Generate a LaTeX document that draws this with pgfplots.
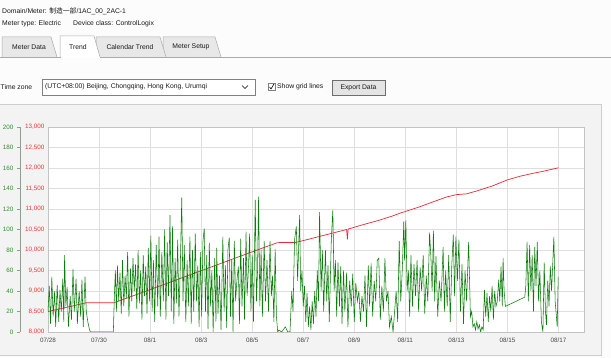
\documentclass[border=0pt]{standalone}
\usepackage{fontspec}
\setmainfont{Liberation Sans}
\newfontfamily\cjk{Noto Sans CJK SC}
\usepackage{pgfplots}
\pgfplotsset{compat=1.18}
\definecolor{pagebg}{RGB}{252,252,253}
\definecolor{panelbg}{RGB}{243,243,243}
\definecolor{panelborder}{RGB}{205,205,205}
\definecolor{tabfill}{RGB}{232,232,232}
\definecolor{tabborder}{RGB}{170,170,170}
\definecolor{btnfill}{RGB}{228,228,228}
\definecolor{btnborder}{RGB}{110,110,110}
\definecolor{gridc}{RGB}{222,222,222}
\definecolor{framec}{RGB}{195,195,195}
\definecolor{redline}{RGB}{232,40,55}
\definecolor{greenline}{RGB}{10,125,10}
\definecolor{redlab}{RGB}{235,55,55}
\definecolor{greenlab}{RGB}{50,140,50}
\definecolor{greenaxis}{RGB}{140,160,140}
\definecolor{xlab}{RGB}{70,70,70}
\definecolor{txt}{RGB}{25,25,25}
\begin{document}
\begin{tikzpicture}[font=\fontsize{6.8}{8}\selectfont, text=txt]
\useasboundingbox (0pt,0pt) rectangle (611pt,358pt);
\fill[pagebg] (0pt,0pt) rectangle (611pt,358pt);
% header
\node[anchor=west, inner sep=0pt] at (2pt,347pt) {Domain/Meter: {\cjk 制造一部}/1AC\_00\_2AC-1};
\node[anchor=west, inner sep=0pt] at (2pt,334pt) {Meter type: Electric};
\node[anchor=west, inner sep=0pt] at (73pt,334pt) {Device class: ControlLogix};
% tabs
\draw[tabborder, line width=0.6pt] (0pt,301pt) -- (611pt,301pt);
\filldraw[fill=tabfill, draw=tabborder, line width=0.5pt] (163pt,301pt) -- (163pt,321pt) -- (215pt,321pt) -- (221pt,301pt);
\filldraw[fill=tabfill, draw=tabborder, line width=0.5pt] (96pt,301pt) -- (96pt,321pt) -- (160pt,321pt) -- (166pt,301pt);
\filldraw[fill=tabfill, draw=tabborder, line width=0.5pt] (2pt,301pt) -- (2pt,321pt) -- (51pt,321pt) -- (57pt,301pt);
\filldraw[fill=white, draw=tabborder, line width=0.5pt] (60pt,301pt) -- (60pt,322pt) -- (94pt,322pt) -- (100pt,301pt);
\draw[white, line width=0.8pt] (60.5pt,301pt) -- (99.5pt,301pt);
\node[inner sep=0pt] at (29pt,311pt) {Meter Data};
\node[inner sep=0pt] at (78pt,311pt) {Trend};
\node[inner sep=0pt] at (130pt,311pt) {Calendar Trend};
\node[inner sep=0pt] at (191pt,311pt) {Meter Setup};
% time zone row
\node[anchor=west, inner sep=0pt] at (0.5pt,271pt) {Time zone};
\draw[fill=white, draw=gray, line width=0.5pt] (42pt,263pt) rectangle (255pt,279pt);
\node[anchor=west, inner sep=0pt] at (45pt,271pt) {(UTC+08:00) Beijing, Chongqing, Hong Kong, Urumqi};
\draw[line width=0.6pt] (242pt,272.5pt) -- (245pt,269.5pt) -- (248pt,272.5pt);
\draw[fill=white, draw=gray, line width=0.5pt] (268pt,267.5pt) rectangle (275pt,274.5pt);
\draw[line width=0.6pt] (269.5pt,271pt) -- (271pt,269pt) -- (274pt,274pt);
\node[anchor=west, inner sep=0pt] at (277pt,271pt) {Show grid lines};
\draw[fill=btnfill, draw=btnborder, line width=0.6pt] (332pt,263pt) rectangle (385pt,278pt);
\node[inner sep=0pt] at (358.5pt,270.5pt) {Export Data};
% panel
\filldraw[fill=panelbg, draw=panelborder, line width=0.6pt] (-1pt,3pt) rectangle (601pt,254pt);

\begin{axis}[
  at={(48pt,26pt)}, anchor=south west,
  scale only axis, width=536pt, height=205pt,
  xmin=0, xmax=21, ymin=8000, ymax=13000,
  xtick={0,2,...,20},
  xticklabels={07/28,07/30,08/1,08/3,08/5,08/7,08/9,08/11,08/13,08/15,08/17},
  ytick={8000,8500,...,13000},
  scaled y ticks=false,
  grid=major, major grid style={gridc, line width=0.5pt},
  axis line style={framec, line width=0.6pt},
  major tick length=0pt,
  tick label style={font=\fontsize{6.3}{7}\selectfont},
  yticklabel style={text=redlab},
  xticklabel style={text=xlab, yshift=-2pt},
  axis background/.style={fill=white},
  /pgf/number format/.cd, fixed, 1000 sep={,}, assume math mode=true,
]
\addplot[redline, line width=0.7pt] coordinates {
(0,8500) (0.5,8570) (1.0,8640) (1.5,8715) (2.6,8715) (3.5,8920) (4.5,9150)
(5.5,9380) (6.5,9610) (7.5,9840) (8.5,10070) (9.0,10180) (9.7,10185)
(10.2,10260) (10.6,10325) (11.2,10420) (11.70,10500) (11.73,10260) (11.76,10510)
(12.3,10610) (13.0,10730) (13.5,10830) (13.8,10900) (14.5,11040) (15.2,11200)
(15.6,11290) (16.0,11350) (16.4,11370) (16.8,11440) (17.4,11560) (18.0,11710)
(18.5,11800) (19.0,11870) (19.4,11920) (20.0,12005)
};
\end{axis}

\begin{axis}[
  at={(48pt,26pt)}, anchor=south west,
  scale only axis, width=536pt, height=205pt,
  xmin=0, xmax=21, ymin=0, ymax=200,
  axis x line=none, axis y line*=left,
  ytick={0,20,...,200},
  tick align=outside, major tick length=3pt,
  y axis line style={xshift=-28pt, draw=greenaxis, line width=0.5pt},
  ytick style={xshift=-28pt, draw=greenaxis, line width=0.5pt},
  yticklabel style={xshift=-28pt, text=greenlab, font=\fontsize{6.3}{7}\selectfont},
  /pgf/number format/.cd, assume math mode=true,
]
\addplot[greenline, line width=0.55pt] coordinates {
(0.00,20) (0.05,45) (0.10,8) (0.15,54) (0.20,15) (0.26,40) (0.30,5) (0.36,46)
(0.42,10) (0.47,41) (0.52,20) (0.58,52) (0.62,10) (0.65,75) (0.70,25) (0.75,44)
(0.80,5) (0.87,35) (0.92,12) (0.98,61) (1.03,20) (1.10,52) (1.15,8) (1.22,40)
(1.28,15) (1.33,51) (1.38,5) (1.45,54) (1.50,20) (1.56,10) (1.62,3) (1.66,0)
(2.00,0) (2.56,0)
(2.60,35) (2.64,60) (2.68,20) (2.72,65) (2.77,30) (2.82,58) (2.87,18) (2.92,70)
(2.97,25) (3.02,55) (3.07,33) (3.12,78) (3.17,15) (3.23,62) (3.28,30) (3.33,72)
(3.38,40) (3.43,66) (3.48,22) (3.53,80) (3.58,28) (3.63,60) (3.68,12) (3.73,75)
(3.78,35) (3.83,64) (3.88,18) (3.93,82) (3.98,30)
(4.03,94) (4.08,20) (4.13,70) (4.18,10) (4.24,85) (4.30,25) (4.35,93) (4.40,15)
(4.46,78) (4.52,30) (4.57,100) (4.62,12) (4.67,88) (4.72,35) (4.78,114) (4.83,20)
(4.88,103) (4.93,8) (4.98,72) (5.03,28) (5.08,90) (5.13,15) (5.18,60) (5.24,131)
(5.29,30) (5.34,85) (5.40,10) (5.45,70) (5.50,25) (5.56,93) (5.61,8) (5.66,80)
(5.71,20) (5.77,96) (5.82,30) (5.87,65) (5.92,5) (5.97,78)
(6.02,15) (6.07,88) (6.12,101) (6.17,20) (6.22,75) (6.27,3) (6.32,87) (6.37,25)
(6.42,60) (6.47,0) (6.53,72) (6.58,10) (6.61,82) (6.66,18) (6.72,55) (6.78,2)
(6.85,93) (6.90,20) (6.95,65) (7.00,4) (7.05,80) (7.10,92) (7.15,15) (7.20,70)
(7.25,0) (7.30,89) (7.35,30) (7.40,50) (7.46,64) (7.50,8) (7.55,91) (7.60,25)
(7.66,72) (7.70,12) (7.76,98) (7.80,35) (7.85,60) (7.90,96) (7.95,20) (8.00,75)
(8.05,10) (8.12,129) (8.17,30) (8.21,60) (8.25,132) (8.30,25) (8.35,80) (8.40,15)
(8.47,89) (8.52,30) (8.58,70) (8.64,20) (8.70,89) (8.75,35) (8.80,55) (8.85,10)
(8.90,81) (8.95,15) (9.00,0) (9.05,2) (9.15,0) (9.30,5) (9.40,0) (9.48,0)
(9.55,40) (9.60,20) (9.66,90) (9.73,103) (9.78,50) (9.86,114) (9.90,40) (9.95,60)
(10.00,25) (10.05,45) (10.10,10) (10.15,38) (10.20,5) (10.25,25) (10.30,2) (10.35,30)
(10.40,8) (10.45,40) (10.50,15) (10.55,60) (10.60,30) (10.64,117) (10.70,40) (10.75,80)
(10.80,20) (10.87,80) (10.92,30) (10.97,65) (11.02,10) (11.10,90) (11.16,119) (11.21,40)
(11.26,70) (11.31,15) (11.36,68) (11.42,25) (11.47,64) (11.52,8) (11.58,60) (11.63,20)
(11.70,58) (11.75,5) (11.82,50) (11.88,25) (11.94,57) (12.00,10) (12.06,48) (12.12,30)
(12.18,40) (12.24,10) (12.30,35) (12.36,20) (12.42,55) (12.48,5) (12.55,65) (12.60,25)
(12.66,67) (12.72,15) (12.78,50) (12.84,30) (12.90,70) (12.96,72) (13.02,12) (13.08,45)
(13.14,20) (13.20,72) (13.26,30) (13.32,40) (13.38,5) (13.45,15) (13.52,0) (13.58,20)
(13.64,40) (13.70,10) (13.76,89) (13.82,30) (13.88,60) (13.94,108) (13.97,70) (14.02,109)
(14.07,40) (14.12,60) (14.17,15) (14.22,75) (14.28,25) (14.34,66) (14.40,35) (14.46,70)
(14.52,20) (14.58,63) (14.64,40) (14.70,75) (14.76,18) (14.82,55) (14.88,30) (14.95,97)
(15.00,74) (15.05,40) (15.10,99) (15.15,30) (15.20,74) (15.27,15) (15.33,50) (15.40,30)
(15.48,83) (15.53,20) (15.58,60) (15.64,25) (15.70,75) (15.76,10) (15.82,65) (15.88,95)
(15.93,35) (15.98,93) (16.04,50) (16.10,90) (16.16,20) (16.22,66) (16.28,8) (16.34,60)
(16.40,30) (16.48,88) (16.55,15) (16.60,20) (16.65,5) (16.70,8) (16.75,2) (16.80,10)
(16.85,3) (16.90,7) (16.95,0) (17.00,5) (17.05,2) (17.10,41) (17.15,15) (17.20,38)
(17.25,10) (17.30,35) (17.35,20) (17.40,45) (17.45,12) (17.50,40) (17.55,25) (17.60,30)
(17.66,51) (17.70,30) (17.75,64) (17.80,25) (17.83,72) (17.87,40) (17.92,25) (18.68,34)
(18.72,45) (18.77,88) (18.82,30) (18.87,85) (18.92,40) (18.97,75) (19.02,20) (19.07,83)
(19.12,45) (19.17,88) (19.22,30) (19.27,60) (19.33,10) (19.39,0) (19.44,68) (19.49,20)
(19.53,7) (19.58,50) (19.63,25) (19.68,64) (19.73,40) (19.82,93) (19.87,30) (19.92,15)
(19.95,5) (19.99,54)
};
\end{axis}
\end{tikzpicture}
\end{document}
